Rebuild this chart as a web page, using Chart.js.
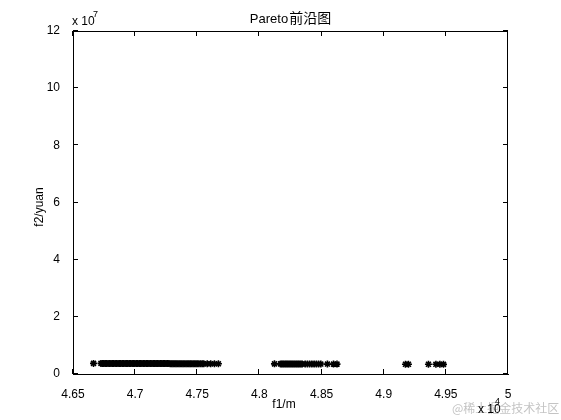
<!DOCTYPE html>
<html><head><meta charset="utf-8">
<script src="https://cdn.jsdelivr.net/npm/chart.js@4.4.0/dist/chart.umd.min.js"></script>
<style>html,body{margin:0;padding:0;background:#fff}#wrap{width:561px;height:420px}</style>
</head><body><div id="wrap"><canvas id="c" width="561" height="420"></canvas></div>
<script>
// f1 in m, f2 in yuan
const cluster1F1 = [46665,46725,46736,46748,46759,46770,46782,46793,46805,46816,
  46827,46839,46850,46862,46873,46884,46896,46907,46919,46930,
  46941,46953,46964,46976,46987,46998,47010,47021,47033,47044,
  47055,47067,47078,47090,47101,47112,47124,47135,47147,47158,
  47169,47181,47192,47204,47215,47226,47238,47249,47261,47272,
  47283,47295,47306,47318,47329,47340,47352,47363,47375,47386,
  47397,47409,47420,47432,47443,47454,47466,47477,47489,47500,
  47513,47527,47540,47552,47580,47608,47638,47670];
const cluster1F2 = [3.71e6,3.71e6,3.71e6,3.70e6,3.70e6,3.70e6,3.70e6,3.70e6,3.69e6,3.69e6,
  3.69e6,3.69e6,3.69e6,3.69e6,3.68e6,3.68e6,3.68e6,3.68e6,3.68e6,3.68e6,
  3.67e6,3.67e6,3.67e6,3.67e6,3.67e6,3.67e6,3.66e6,3.66e6,3.66e6,3.66e6,
  3.66e6,3.66e6,3.65e6,3.65e6,3.65e6,3.65e6,3.65e6,3.65e6,3.64e6,3.64e6,
  3.64e6,3.64e6,3.64e6,3.64e6,3.63e6,3.63e6,3.63e6,3.63e6,3.63e6,3.63e6,
  3.62e6,3.62e6,3.62e6,3.62e6,3.62e6,3.62e6,3.61e6,3.61e6,3.61e6,3.61e6,
  3.61e6,3.61e6,3.60e6,3.60e6,3.60e6,3.60e6,3.60e6,3.60e6,3.59e6,3.59e6,
  3.59e6,3.59e6,3.59e6,3.59e6,3.58e6,3.58e6,3.58e6,3.57e6];
const cluster2F1 = [48121,48169,48180,48191,48202,48213,48224,48235,48246,48257,
  48268,48279,48290,48301,48312,48323,48334,48345,48368,48386,
  48404,48422,48440,48458,48476,48494,48547,48596,48624];
const cluster2F2 = [3.55e6,3.54e6,3.54e6,3.54e6,3.54e6,3.53e6,3.53e6,3.53e6,3.53e6,3.52e6,
  3.52e6,3.52e6,3.52e6,3.51e6,3.51e6,3.51e6,3.51e6,3.50e6,3.50e6,3.50e6,
  3.49e6,3.49e6,3.49e6,3.48e6,3.48e6,3.48e6,3.47e6,3.46e6,3.46e6];
const cluster3F1 = [49175,49199];
const cluster3F2 = [3.42e6,3.42e6];
const cluster4F1 = [49360,49420,49452,49481];
const cluster4F2 = [3.40e6,3.39e6,3.39e6,3.38e6];

const xTicks = [46500,47000,47500,48000,48500,49000,49500,50000];
const xTickLabels = ['4.65','4.7','4.75','4.8','4.85','4.9','4.95','5'];
const yTicks = [0,2e7,4e7,6e7,8e7,10e7,12e7];
const yTickLabels = ['0','2','4','6','8','10','12'];

const titleMain = 'Pareto';
const titleCJK = '前沿图';
const xLabel = 'f1/m';
const yLabel = 'f2/yuan';
const watermark = '@稀土掘金技术社区';

const pts = [];
[[cluster1F1,cluster1F2],[cluster2F1,cluster2F2],[cluster3F1,cluster3F2],[cluster4F1,cluster4F2]]
  .forEach(([a,b]) => a.forEach((v,i) => pts.push({x:v, y:b[i]})));

const FONT = '"Liberation Sans", Arial, sans-serif';

const deco = {
  id: 'deco',
  afterDraw(chart) {
    const ctx = chart.ctx, a = chart.chartArea, xs = chart.scales.x, ys = chart.scales.y;
    ctx.save();
    ctx.strokeStyle = '#000'; ctx.lineWidth = 1;
    ctx.beginPath();
    ctx.moveTo(a.left, a.top + 0.5); ctx.lineTo(a.right, a.top + 0.5);
    ctx.moveTo(a.right - 0.5, a.top); ctx.lineTo(a.right - 0.5, a.bottom);
    xTicks.forEach(v => {
      const px = Math.round(xs.getPixelForValue(v)) - 0.5;
      ctx.moveTo(px, a.bottom); ctx.lineTo(px, a.bottom - 5);
      ctx.moveTo(px, a.top); ctx.lineTo(px, a.top + 5);
    });
    yTicks.forEach(v => {
      const py = Math.round(ys.getPixelForValue(v)) - 0.5;
      ctx.moveTo(a.left, py); ctx.lineTo(a.left + 5, py);
      ctx.moveTo(a.right, py); ctx.lineTo(a.right - 5, py);
    });
    ctx.stroke();

    ctx.fillStyle = '#000';
    ctx.textBaseline = 'alphabetic';
    // title
    ctx.font = '13px ' + FONT;
    const w1 = ctx.measureText(titleMain).width;
    ctx.font = '14px "Noto Sans CJK SC", sans-serif';
    const w2 = ctx.measureText(titleCJK).width;
    const tx = 290 - (w1 + w2) / 2;
    ctx.font = '13px ' + FONT;
    ctx.textAlign = 'left';
    ctx.fillText(titleMain, tx, 23);
    ctx.font = '14px "Noto Sans CJK SC", sans-serif';
    ctx.fillText(titleCJK, tx + w1 + 1, 23);

    // exponent y
    ctx.font = '12px ' + FONT;
    ctx.fillText('x 10', 72, 25);
    ctx.font = '9px ' + FONT;
    ctx.fillText('7', 93, 17);

    // watermark
    ctx.fillStyle = '#c4c4c4';
    ctx.font = '12px "Noto Sans CJK SC", sans-serif';
    ctx.fillText(watermark, 452, 413);

    // exponent x
    ctx.fillStyle = '#000';
    ctx.font = '12px ' + FONT;
    ctx.fillText('x 10', 478, 413);
    ctx.font = '9px ' + FONT;
    ctx.fillText('4', 495, 404);

    // axis labels
    ctx.font = '12px ' + FONT;
    ctx.textAlign = 'center';
    ctx.fillText(xLabel, 284, 408);
    ctx.save();
    ctx.translate(43, 207);
    ctx.rotate(-Math.PI / 2);
    ctx.fillText(yLabel, 0, 0);
    ctx.restore();
    ctx.restore();
  }
};

new Chart(document.getElementById('c'), {
  type: 'scatter',
  data: { datasets: [{
    data: pts,
    pointStyle: 'star',
    radius: 3.5,
    borderColor: '#000',
    backgroundColor: '#000',
    borderWidth: 1.6,
    showLine: false
  }]},
  options: {
    responsive: false,
    devicePixelRatio: 1,
    animation: false,
    layout: { padding: { top: 31, right: 53, left: 0, bottom: 0 } },
    plugins: { legend: { display: false }, tooltip: { enabled: false }, title: { display: false } },
    scales: {
      x: {
        type: 'linear', min: 46500, max: 50000,
        afterBuildTicks: s => { s.ticks = xTicks.map(v => ({ value: v })); },
        afterFit: s => { s.height = 46; },
        grid: { display: false },
        border: { display: true, color: '#000', width: 1 },
        ticks: { color: '#000', font: { family: FONT, size: 12 }, padding: 5, maxRotation: 0, autoSkip: false,
          callback: (v, i) => xTickLabels[i] }
      },
      y: {
        type: 'linear', min: 0, max: 1.2e8,
        afterBuildTicks: s => { s.ticks = yTicks.map(v => ({ value: v })); },
        afterFit: s => { s.width = 73; },
        grid: { display: false },
        border: { display: true, color: '#000', width: 1 },
        ticks: { color: '#000', font: { family: FONT, size: 12 }, padding: 5, autoSkip: false,
          callback: (v, i) => yTickLabels[i] }
      }
    }
  },
  plugins: [deco]
});
</script>
</body></html>
